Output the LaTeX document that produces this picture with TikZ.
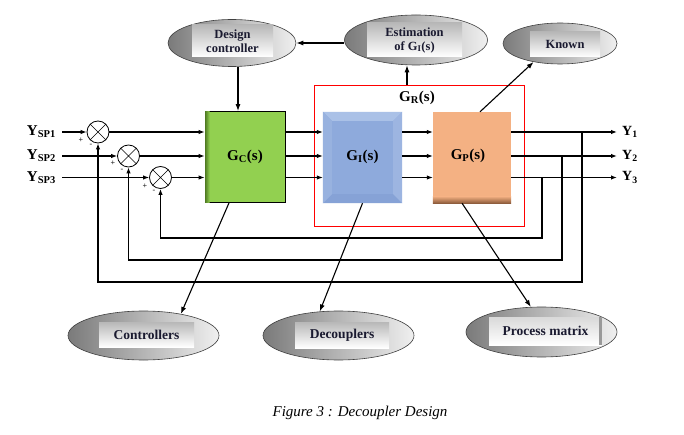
\documentclass[tikz,border=0pt]{standalone}
\usepackage{fontspec}
\setmainfont{Liberation Serif}
\usetikzlibrary{shapes.geometric,arrows.meta,calc}
\definecolor{gcgreen}{HTML}{92D050}
\definecolor{gcdark}{HTML}{4F7A22}
\definecolor{giface}{HTML}{8EAADC}
\definecolor{gitop}{HTML}{AAC1E7}
\definecolor{gileft}{HTML}{98B2DF}
\definecolor{giright}{HTML}{9DB5E1}
\definecolor{gibot}{HTML}{86A2D6}
\definecolor{gporange}{HTML}{F4B183}
\definecolor{gpdark}{HTML}{8C5B3B}
\definecolor{txt}{HTML}{1A1A30}
\begin{document}
\begin{tikzpicture}[x=1pt,y=-1pt,
  sig/.style={line width=1.1pt,-{Latex[length=6pt,width=4.5pt]}},
  fb/.style={line width=1.6pt,-{Latex[length=6pt,width=4.5pt]}},
  note/.style={line width=1.1pt,-{Latex[length=7pt,width=5pt]}},
  oval/.style={ellipse,draw=black!75,line width=0.6pt,left color=black!52,right color=black!6,inner sep=0pt},
  tag/.style={rectangle,top color=black!28,bottom color=white,inner sep=0pt,align=center,
    font=\bfseries\fontsize{12.5}{14}\selectfont,text=txt},
  bigtag/.style={tag,font=\bfseries\fontsize{13.5}{15}\selectfont},
  sumj/.style={circle,draw,fill=white,minimum size=22pt,inner sep=0pt,line width=0.8pt,
    path picture={\draw[line width=0.7pt] (path picture bounding box.north west) -- (path picture bounding box.south east)
      (path picture bounding box.south west) -- (path picture bounding box.north east);}},
  sgn/.style={inner sep=0pt,font=\bfseries\fontsize{8}{8}\selectfont,text=black!85},
  lbl/.style={inner sep=0pt,font=\bfseries\fontsize{15}{17}\selectfont,text=black},
  outlbl/.style={inner sep=0pt,font=\bfseries\fontsize{14}{16}\selectfont,text=black},
  blk/.style={rectangle,inner sep=0pt,minimum height=91pt}
]
\useasboundingbox[fill=white] (0,0) rectangle (684,435);

% ---------------- ellipses with tags
\node[oval,minimum width=128pt,minimum height=47pt] (dc) at (232,43) {};
\node[tag,minimum width=81pt,minimum height=32pt] (dctag) at (232.5,41) {Design\\controller};
\node[oval,minimum width=143pt,minimum height=50pt] (est) at (416,40) {};
\node[tag,minimum width=95pt,minimum height=34pt] (esttag) at (414.5,40) {Estimation\\of G\textsubscript{I}(s)};
\node[oval,minimum width=114pt,minimum height=41pt] (known) at (560,43.5) {};
\node[tag,minimum width=70pt,minimum height=25pt] (knowntag) at (565,44.5) {Known};
\node[oval,minimum width=151pt,minimum height=49pt] (ctrl) at (143.5,335.5) {};
\node[bigtag,minimum width=95pt,minimum height=25pt] (ctrltag) at (146.5,334.5) {Controllers};
\node[oval,minimum width=151pt,minimum height=49pt] (dec) at (338.5,335.5) {};
\node[bigtag,minimum width=94pt,minimum height=26pt] (dectag) at (342,335) {Decouplers};
\node[oval,minimum width=151pt,minimum height=50pt] (proc) at (541.5,332) {};
\node[bigtag,minimum width=113pt,minimum height=28pt,top color=black!15] (proctag) at (545.5,331) {Process matrix};
\fill[black!40] ([xshift=-3pt]proctag.north east) rectangle (proctag.south east);

% ---------------- red frame
\node[draw=red,line width=0.8pt,minimum width=210pt,minimum height=141pt,inner sep=0pt] (rb) at (419,155.5) {};
\node[lbl] (grlab) at (417,98) {G\textsubscript{R}(s)};

% ---------------- blocks
\node[blk,minimum width=80pt,fill=gcgreen,draw=black,line width=0.8pt] (gc) at (245,157) {};
\shade[left color=gcdark,right color=gcgreen] ([xshift=0.4pt,yshift=0.4pt]gc.south west) rectangle ([xshift=5pt,yshift=-0.4pt]gc.north west);
\node[lbl] (gclab) at (245,157) {G\textsubscript{C}(s)};

\node[blk,minimum width=79pt,fill=giface] (gi) at (362.5,157.5) {};
\fill[gitop] (gi.north west) -- (gi.north east) -- ([shift={(-9pt,-9pt)}]gi.north east) -- ([shift={(9pt,-9pt)}]gi.north west) -- cycle;
\fill[gibot] (gi.south west) -- (gi.south east) -- ([shift={(-9pt,9pt)}]gi.south east) -- ([shift={(9pt,9pt)}]gi.south west) -- cycle;
\fill[gileft] (gi.north west) -- (gi.south west) -- ([shift={(9pt,9pt)}]gi.south west) -- ([shift={(9pt,-9pt)}]gi.north west) -- cycle;
\fill[giright] (gi.north east) -- (gi.south east) -- ([shift={(-9pt,9pt)}]gi.south east) -- ([shift={(-9pt,-9pt)}]gi.north east) -- cycle;
\node[lbl] (gilab) at (362.5,157) {G\textsubscript{I}(s)};

\node[blk,minimum width=78pt,fill=gporange] (gp) at (472,157.5) {};
\shade[top color=gporange,bottom color=gpdark] ([yshift=7pt]gp.south west) rectangle (gp.south east);
\node[lbl] (gplab) at (468,156) {G\textsubscript{P}(s)};

% ---------------- summing junctions
\node[sumj] (j1) at (98,132) {};
\node[sumj] (j2) at (128.5,156) {};
\node[sumj] (j3) at (160.5,177.5) {};
\node[sgn] (p1) at (81,140) {+};
\node[sgn] (m1) at (91,145) {-};
\node[sgn] (p2) at (113,163) {+};
\node[sgn] (m2) at (122,170) {-};
\node[sgn] (p3) at (145,186) {+};
\node[sgn] (m3) at (154,191) {-};

% ---------------- inputs
\node[lbl,anchor=east] (ysp1) at (56,132) {Y\textsubscript{SP1}};
\node[lbl,anchor=east] (ysp2) at (56,156) {Y\textsubscript{SP2}};
\node[lbl,anchor=east] (ysp3) at (56,177.5) {Y\textsubscript{SP3}};
\coordinate (s1) at (62,132);
\coordinate (s2) at (62,156);
\coordinate (s3) at (62,177.5);
\draw[sig] (s1) -- (j1.west);
\draw[sig] (s2) -- (j2.west);
\draw[sig] (s3) -- (j3.west);

% ---------------- signal lines
\draw[sig] (j1.east) -- (j1 -| gc.west);
\draw[sig] (j2.east) -- (j2 -| gc.west);
\draw[sig] (j3.east) -- (j3 -| gc.west);
\draw[sig] (j1 -| gc.east) -- (j1 -| gi.west);
\draw[sig] (j2 -| gc.east) -- (j2 -| gi.west);
\draw[sig] (j3 -| gc.east) -- (j3 -| gi.west);
\draw[sig] (j1 -| gi.east) -- (j1 -| gp.west);
\draw[sig] (j2 -| gi.east) -- (j2 -| gp.west);
\draw[sig] (j3 -| gi.east) -- (j3 -| gp.west);

% ---------------- outputs
\node[outlbl,anchor=west] (y1) at (622,132) {Y\textsubscript{1}};
\node[outlbl,anchor=west] (y2) at (622,156) {Y\textsubscript{2}};
\node[outlbl,anchor=west] (y3) at (622,177.5) {Y\textsubscript{3}};
\coordinate (o1) at (617,132);
\coordinate (o2) at (617,156);
\coordinate (o3) at (617,177.5);
\draw[sig] (j1 -| gp.east) -- (o1);
\draw[sig] (j2 -| gp.east) -- (o2);
\draw[sig] (j3 -| gp.east) -- (o3);

% ---------------- feedback
\coordinate (b1) at (582,132);
\coordinate (b2) at (562,156);
\coordinate (b3) at (542,177.5);
\coordinate (l1) at (0,282);
\coordinate (l2) at (0,260);
\coordinate (l3) at (0,238);
\draw[fb] (b1) -- (b1 |- l1) -| (j1.south);
\draw[fb] (b2) -- (b2 |- l2) -| (j2.south);
\draw[fb] (b3) -- (b3 |- l3) -| (j3.south);

% ---------------- annotation arrows
\draw[note] ([xshift=6pt]dc.south) -- ([xshift=-7pt]gc.north);
\draw[note] (est.west |- dc.east) -- (dc.east);
\coordinate (rt) at (407,85);
\draw[note] (rt) -- (rt |- est.south);
\draw[note] ([xshift=8pt]gp.north) -- (known.215);
\draw[note] ([xshift=-16pt]gc.south) -- (ctrl.30);
\draw[note] (gi.south) -- (dec.128);
\draw[note] ([xshift=-10pt]gp.south) -- (proc.113);

% ---------------- caption
\node[font=\itshape\fontsize{15}{17}\selectfont] (cap) at (360,413) {Figure 3 : Decoupler Design};
\end{tikzpicture}
\end{document}
